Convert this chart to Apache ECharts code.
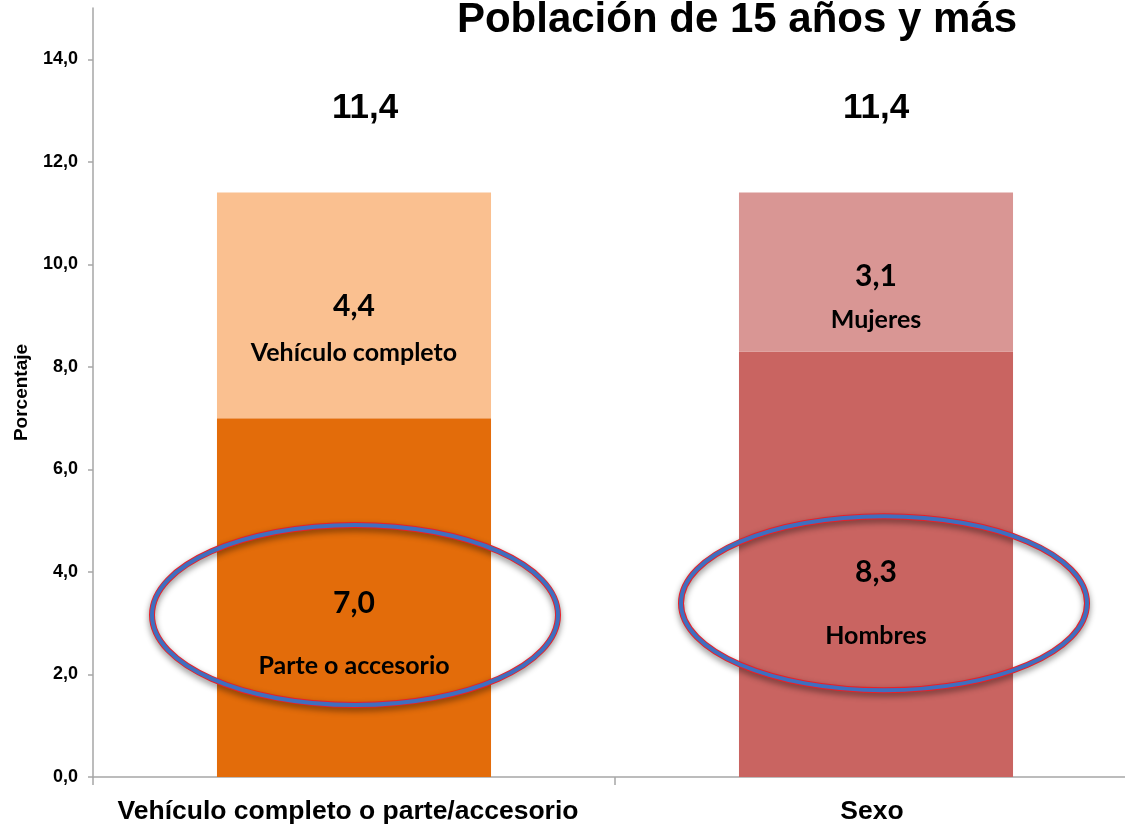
<!DOCTYPE html>
<html>
<head>
<meta charset="utf-8">
<script src="https://cdn.jsdelivr.net/npm/echarts@6/dist/echarts.min.js"></script>
<style>
html,body{margin:0;padding:0;background:#fff;}
#chart{width:1125px;height:825px;}
</style>
</head>
<body>
<div id="chart"></div>
<script>
// ---- data ----
const categories = ["Vehículo completo o parte/accesorio", "Sexo"];
const bottomValues = [7.0, 8.3];
const bottomNames = ["Parte o accesorio", "Hombres"];
const topValues = [4.4, 3.1];
const topNames = ["Vehículo completo", "Mujeres"];
const totals = [11.4, 11.4];
const yTicks = [0, 2, 4, 6, 8, 10, 12, 14];
const title = "Población de 15 años y más";
const yName = "Porcentaje";

// ---- styles ----
const bottomColors = ["#E36C0A", "#C96461"];
const topColors = ["#FAC090", "#D99694"];
const fmt = v => v.toFixed(1).replace('.', ',');
const calibri = "Lato, 'Open Sans', sans-serif";
const arial = "'Liberation Sans', Arial, sans-serif";

// label layout per bar segment: [lineGap, offsetY]
const topLayout = [[47, 24], [43, 26]];
const bottomLayout = [[63, 37], [64, 40]];

function segLabel(value, name, lay) {
  return {
    show: true,
    position: 'inside',
    offset: [0, lay[1]],
    formatter: '{v|' + fmt(value) + '}\n{c|' + name + '}',
    rich: {
      v: {fontFamily: calibri, fontWeight: 'bold', fontSize: 30, color: '#000', lineHeight: lay[0], align: 'center'},
      c: {fontFamily: calibri, fontWeight: 'bold', fontSize: 25, color: '#000', lineHeight: lay[0], align: 'center'}
    }
  };
}

const bottomData = bottomValues.map((v, i) => ({
  value: v, itemStyle: {color: bottomColors[i]}, label: segLabel(v, bottomNames[i], bottomLayout[i])
}));
const topData = topValues.map((v, i) => ({
  value: v, itemStyle: {color: topColors[i]}, label: segLabel(v, topNames[i], topLayout[i])
}));
const totalOffsets = [[11, 0], [0, 0]];
const totalData = totals.map((v, i) => ({
  value: v,
  label: {show: true, position: 'top', distance: 66, offset: totalOffsets[i], formatter: fmt(v),
    fontFamily: arial, fontWeight: 'bold', fontSize: 35, color: '#000', opacity: 1}
}));

const axisGray = '#A6A6A6';
const chart = echarts.init(document.getElementById('chart'), null, {renderer: 'canvas'});
const option = {
  backgroundColor: '#fff',
  animation: false,
  title: {
    text: title, left: 732, top: -6, textAlign: 'center',
    textStyle: {fontFamily: arial, fontWeight: 'bold', fontSize: 42, color: '#000'}
  },
  grid: {left: 93, right: -12, top: 8, bottom: 48, containLabel: false, outerBoundsMode: 'none'},
  xAxis: {
    type: 'category', data: categories,
    axisLine: {lineStyle: {color: axisGray, width: 1.5}},
    axisTick: {show: true, length: 8, lineStyle: {color: axisGray, width: 1.5}},
    axisLabel: {interval: 0, margin: 21, fontFamily: arial, fontWeight: 'bold', fontSize: 26.5, color: '#000',
      formatter: (v, i) => i === 0 ? '{a|' + v + '}' : '{b|' + v + '}',
      rich: {
        a: {fontFamily: arial, fontWeight: 'bold', fontSize: 26.5, color: '#000', padding: [0, 12, 0, 0]},
        b: {fontFamily: arial, fontWeight: 'bold', fontSize: 26.5, color: '#000', padding: [0, 8, 0, 0]}
      }}
  },
  yAxis: {
    type: 'value', min: 0, max: 15,
    name: yName, nameLocation: 'middle', nameGap: 62, nameRotate: 90,
    nameTextStyle: {fontFamily: arial, fontWeight: 'bold', fontSize: 19, color: '#000'},
    axisLine: {show: true, lineStyle: {color: axisGray, width: 1.5}},
    axisTick: {show: true, length: 5, customValues: yTicks, lineStyle: {color: axisGray, width: 1.5}},
    axisLabel: {customValues: yTicks, margin: 15, formatter: v => fmt(v), fontFamily: arial, fontWeight: 'bold', fontSize: 18, color: '#000'},
    splitLine: {show: false}
  },
  series: [
    {type: 'bar', stack: 'a', barWidth: '52.5%', data: bottomData},
    {type: 'bar', stack: 'a', barWidth: '52.5%', data: topData},
    {type: 'scatter', symbolSize: 1, itemStyle: {opacity: 0}, data: totalData, silent: true}
  ]
};
chart.setOption(option);

// ---- annotation ellipses (centres in data coordinates) ----
const ellipses = [
  {cat: 0, val: 3.16, dx: 1, rx: 203, ry: 90},
  {cat: 1, val: 3.39, dx: 8, rx: 203, ry: 87}
];
const g = [];
ellipses.forEach(e => {
  const p = chart.convertToPixel({gridIndex: 0}, [e.cat, e.val]);
  const cx = p[0] + e.dx, cy = p[1];
  g.push({type: 'ellipse', z: 100, shape: {cx, cy, rx: e.rx, ry: e.ry},
    style: {fill: null, stroke: '#E8202A', lineWidth: 6, shadowBlur: 6, shadowOffsetY: 3, shadowColor: 'rgba(0,0,0,0.45)'}});
  g.push({type: 'ellipse', z: 101, shape: {cx, cy, rx: e.rx, ry: e.ry},
    style: {fill: null, stroke: '#3F6FBF', lineWidth: 4}});
});
chart.setOption({graphic: g});
</script>
</body>
</html>
